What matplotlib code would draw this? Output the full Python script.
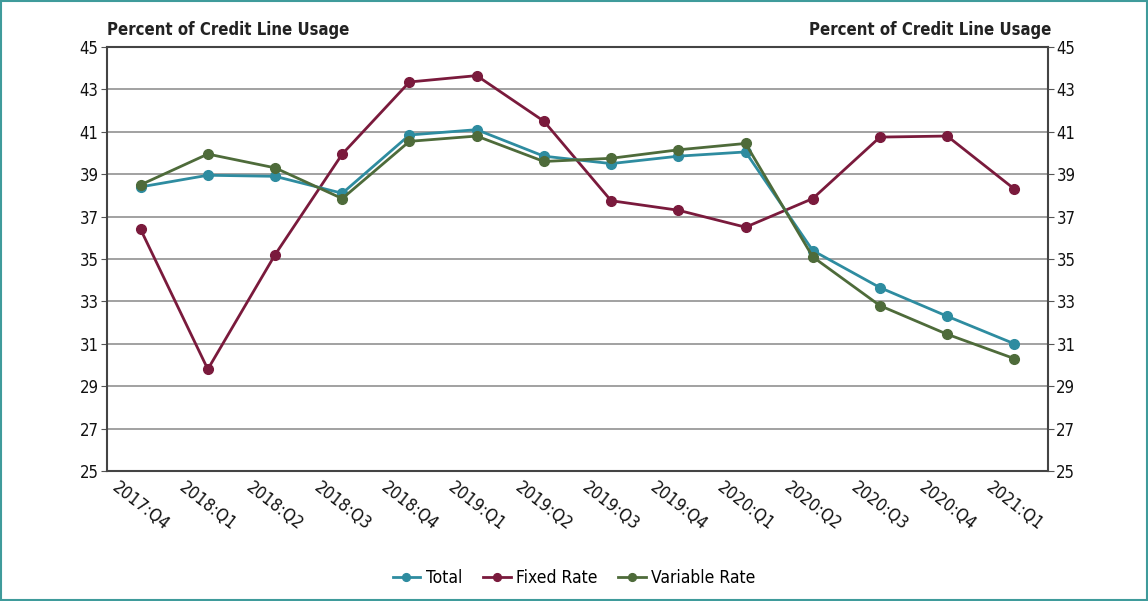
import matplotlib.pyplot as plt
from matplotlib.patches import Rectangle

# Datos
quarters = ['2017:Q4', '2018:Q1', '2018:Q2', '2018:Q3', '2018:Q4', '2019:Q1', '2019:Q2',
            '2019:Q3', '2019:Q4', '2020:Q1', '2020:Q2', '2020:Q3', '2020:Q4', '2021:Q1']
total = [38.4, 38.95, 38.9, 38.1, 40.85, 41.1, 39.85, 39.5, 39.85, 40.05, 35.4, 33.65, 32.3, 31.0]
fixed_rate = [36.4, 29.8, 35.2, 39.95, 43.35, 43.65, 41.5, 37.75, 37.3, 36.5, 37.85, 40.75, 40.8, 38.3]
variable_rate = [38.5, 39.95, 39.3, 37.85, 40.55, 40.8, 39.6, 39.75, 40.15, 40.45, 35.1, 32.8, 31.45, 30.3]
yticks = list(range(25, 46, 2))

font = 'DejaVu Sans'
plt.rcParams['font.family'] = [font]
plt.rcParams['font.stretch'] = 'condensed'

fig = plt.figure(figsize=(11.48, 6.01), dpi=100)
ax = fig.add_axes([0.0932, 0.2163, 0.8197, 0.7055])

x = list(range(len(quarters)))
ax.plot(x, total, color='#2e8ca0', lw=2, marker='o', ms=7, label='Total', zorder=4)
ax.plot(x, fixed_rate, color='#7a1a3c', lw=2, marker='o', ms=7, label='Fixed Rate', zorder=3)
ax.plot(x, variable_rate, color='#4e6b3a', lw=2, marker='o', ms=7, label='Variable Rate', zorder=5)

ax.set_xlim(-0.5, len(quarters) - 0.5)
ax.set_ylim(25, 45)
ax.set_yticks(yticks)
ax.set_yticklabels([str(v) for v in yticks], fontsize=12, color='#111111')
ax.yaxis.grid(True, color='#9a9a9a', lw=1.3)
ax.set_axisbelow(True)
ax.tick_params(axis='y', length=4, color='#555555', pad=2)
ax.set_xticks(x)
ax.set_xticklabels(quarters, rotation=-38, ha='center', va='top', fontsize=12.5, color='#111111')
ax.tick_params(axis='x', length=0, pad=5)
for s in ax.spines.values():
    s.set_color('#444444')
    s.set_linewidth(1.5)

ax2 = ax.twinx()
ax2.set_ylim(25, 45)
ax2.set_yticks(yticks)
ax2.set_yticklabels([str(v) for v in yticks], fontsize=12, color='#111111')
ax2.tick_params(axis='y', length=4, color='#555555', pad=2)
for s in ax2.spines.values():
    s.set_visible(False)

fig.text(0.0932, 0.935, 'Percent of Credit Line Usage', fontsize=12, fontweight='semibold',
         ha='left', va='bottom', color='#222222')
fig.text(0.9155, 0.935, 'Percent of Credit Line Usage', fontsize=12, fontweight='semibold',
         ha='right', va='bottom', color='#222222')

fig.legend(loc='center', bbox_to_anchor=(0.5, 0.038), ncol=3, frameon=False, fontsize=12.5,
           handlelength=1.6, handletextpad=0.3, columnspacing=1.2, markerscale=0.8)

fig.add_artist(Rectangle((0.001, 0.002), 0.998, 0.996, transform=fig.transFigure,
                         fill=False, edgecolor='#3f9b9b', lw=1.5))

fig.savefig('out.png', dpi=100, facecolor='white')
